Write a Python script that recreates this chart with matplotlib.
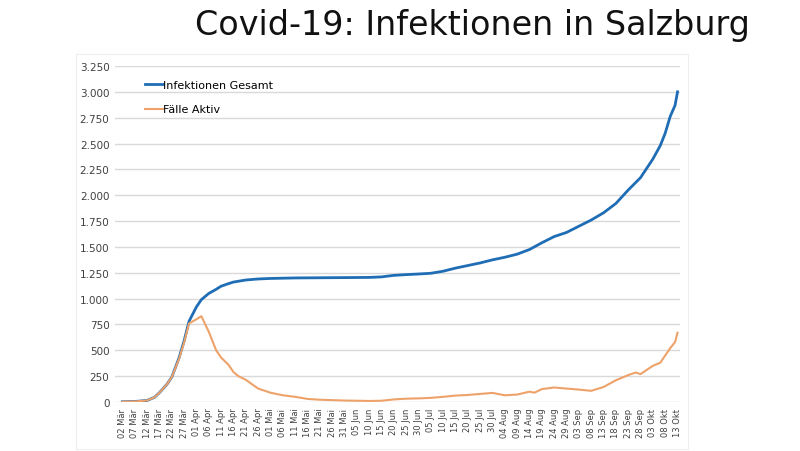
import numpy as np
import pandas as pd
import matplotlib
matplotlib.use("Agg")
import matplotlib.pyplot as plt
from matplotlib.patches import Rectangle

# Infektionen Gesamt (blue)
gesamt_dates = ["2020-03-02", "2020-03-07", "2020-03-12", "2020-03-15", "2020-03-17",
                "2020-03-20", "2020-03-22", "2020-03-25", "2020-03-27", "2020-03-29",
                "2020-04-01", "2020-04-03", "2020-04-06", "2020-04-09", "2020-04-11",
                "2020-04-14", "2020-04-16", "2020-04-21", "2020-04-26", "2020-05-01",
                "2020-05-11", "2020-06-10", "2020-06-15", "2020-06-20", "2020-06-25",
                "2020-06-30", "2020-07-05", "2020-07-10", "2020-07-15", "2020-07-20",
                "2020-07-25", "2020-07-30", "2020-08-04", "2020-08-09", "2020-08-14",
                "2020-08-19", "2020-08-24", "2020-08-29", "2020-09-03", "2020-09-08",
                "2020-09-13", "2020-09-18", "2020-09-23", "2020-09-28", "2020-10-03",
                "2020-10-06", "2020-10-08", "2020-10-10", "2020-10-12", "2020-10-13"]
gesamt = [2, 5, 15, 45, 90,
          170, 240, 430, 590, 780,
          920, 990, 1050, 1090, 1120,
          1145, 1160, 1180, 1190, 1195,
          1200, 1205, 1210, 1225, 1232,
          1238, 1245, 1265, 1295, 1320,
          1345, 1375, 1400, 1430, 1475,
          1540, 1600, 1640, 1700, 1760,
          1830, 1920, 2050, 2170, 2350,
          2480, 2600, 2760, 2870, 3000]

# Fälle Aktiv (orange)
aktiv_dates = ["2020-03-02", "2020-03-07", "2020-03-12", "2020-03-15", "2020-03-17",
               "2020-03-20", "2020-03-22", "2020-03-25", "2020-03-27", "2020-03-29",
               "2020-04-01", "2020-04-03", "2020-04-06", "2020-04-09", "2020-04-11",
               "2020-04-14", "2020-04-16", "2020-04-18", "2020-04-21", "2020-04-26",
               "2020-05-01", "2020-05-06", "2020-05-11", "2020-05-16", "2020-05-21",
               "2020-05-26", "2020-05-31", "2020-06-05", "2020-06-10", "2020-06-15",
               "2020-06-20", "2020-06-25", "2020-06-30", "2020-07-05", "2020-07-10",
               "2020-07-15", "2020-07-20", "2020-07-25", "2020-07-30", "2020-08-04",
               "2020-08-09", "2020-08-14", "2020-08-16", "2020-08-19", "2020-08-24",
               "2020-08-29", "2020-09-03", "2020-09-08", "2020-09-13", "2020-09-18",
               "2020-09-23", "2020-09-26", "2020-09-28", "2020-10-03", "2020-10-06",
               "2020-10-08", "2020-10-10", "2020-10-12", "2020-10-13"]
aktiv = [2, 5, 15, 45, 90,
         170, 240, 420, 575, 760,
         800, 830, 680, 500, 430,
         360, 290, 250, 215, 130,
         90, 65, 50, 30, 22,
         18, 14, 12, 10, 12,
         25, 32, 35, 40, 50,
         62, 68, 78, 88, 65,
         72, 100, 90, 125, 140,
         130, 120, 108, 145, 210,
         260, 285, 270, 350, 380,
         450, 520, 580, 670]

monate = {3: "Mär", 4: "Apr", 5: "Mai", 6: "Jun", 7: "Jul", 8: "Aug", 9: "Sep", 10: "Okt"}
tick_dates = pd.date_range("2020-03-02", "2020-10-13", freq="5D")
tick_labels = [f"{d.day:02d} {monate[d.month]}" for d in tick_dates]
y_ticks = list(range(0, 3251, 250))

fig = plt.figure(figsize=(8, 4.52), dpi=100)
fig.patches.append(Rectangle((76 / 800, 1 - 450 / 452), (688 - 76) / 800, (450 - 55) / 452,
                             transform=fig.transFigure, fill=False, edgecolor="#eeeeee", lw=0.8))
ax = fig.add_axes([115 / 800, 1 - 403 / 452, (680 - 115) / 800, 336 / 452])

ax.plot(pd.to_datetime(gesamt_dates), gesamt, color="#1f6db5", lw=2.0, label="Infektionen Gesamt", zorder=3)
ax.plot(pd.to_datetime(aktiv_dates), aktiv, color="#eda26a", lw=1.5, label="Fälle Aktiv", zorder=4)

ax.set_xlim(pd.Timestamp("2020-02-28"), pd.Timestamp("2020-10-14"))
ax.set_ylim(0, 3250)
ax.set_yticks(y_ticks)
ax.set_yticklabels([f"{v:,}".replace(",", ".") for v in y_ticks], fontsize=7.5, color="#404040")
ax.set_xticks(tick_dates)
ax.set_xticklabels(tick_labels, rotation=90, fontsize=6, color="#404040")
ax.tick_params(length=0, pad=4)
ax.grid(axis="y", color="#d9d9d9", lw=1)
ax.set_axisbelow(True)
for s in ax.spines.values():
    s.set_visible(False)

ax.legend(loc="upper left", bbox_to_anchor=(0.035, 0.988), frameon=False, fontsize=8,
          handlelength=1.6, handletextpad=0.0, labelspacing=1.3)

fig.text(750 / 800, 1 - 25 / 452, "Covid-19: Infektionen in Salzburg", ha="right", va="center",
         fontsize=24, color="#111111")

fig.savefig("out.png", dpi=100)
